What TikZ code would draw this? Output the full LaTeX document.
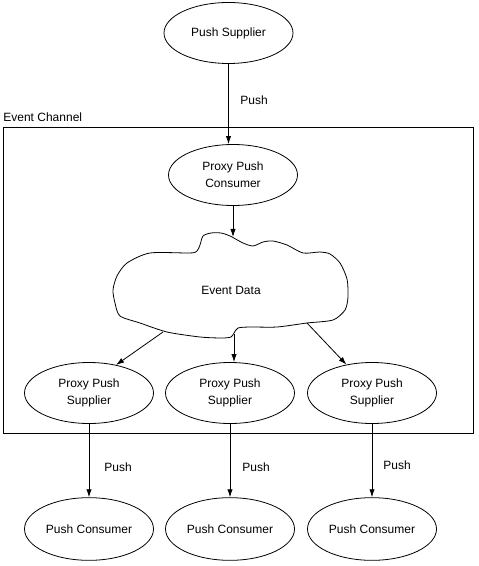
\documentclass[tikz,border=0pt]{standalone}
\usepackage{fontspec}
\setmainfont{Liberation Sans}
\usetikzlibrary{shapes.geometric, arrows.meta}

\begin{document}
\begin{tikzpicture}[x=0.75pt, y=-0.75pt, line width=0.6pt,
    font=\fontsize{9}{13}\selectfont,
    role/.style={draw, ellipse, minimum width=96.75pt, minimum height=45.75pt,
      inner sep=0pt, align=center},
    push/.style={-{Latex[length=6pt, width=4pt]}}]
  \useasboundingbox (0, 0) rectangle (478, 566);
  \draw (3, 127) rectangle (473, 433);
  \node[anchor=base west, inner sep=0pt] (chan) at (3, 122) {Event Channel};
  \node[role] (sup) at (228.5, 33) {Push Supplier};
  \node[role] (ppc) at (233, 175) {Proxy Push\\Consumer};
  \node[role] (pps1) at (89, 393) {Proxy Push\\Supplier};
  \node[role] (pps2) at (230, 393) {Proxy Push\\Supplier};
  \node[role] (pps3) at (372, 393) {Proxy Push\\Supplier};
  \node[role, minimum height=47pt] (con1) at (89, 529) {Push Consumer};
  \node[role, minimum height=47pt] (con2) at (230, 529) {Push Consumer};
  \node[role, minimum height=47pt] (con3) at (372, 529) {Push Consumer};
  % cloud
  \draw plot[smooth cycle, tension=0.45] coordinates {
    (200, 245) (203, 236) (211, 233) (221, 233) (230, 236) (243, 243)
    (253, 246) (263, 242) (273, 241) (287, 245) (303, 253) (320, 252)
    (330, 254) (340, 263) (347, 279) (348, 297) (345, 310) (333, 320)
    (307, 323) (277, 327) (250, 327) (238, 328) (234, 333) (231, 337)
    (222, 338) (200, 337) (167, 332) (140, 323) (120, 316) (115, 303)
    (113, 290) (117, 276) (127, 263) (150, 253) (190, 253) (197, 251)};
  \node (data) at (231, 290) {Event Data};
  \coordinate (in) at (233, 237);
  \coordinate (out1) at (163, 332);
  \coordinate (out2) at (234, 334);
  \coordinate (out3) at (307, 323);
  \draw[push] (sup.south) -- (sup.south |- ppc.north);
  \node (lbl0) at (254, 100) {Push};
  \draw[push] (ppc.south) -- (in);
  \draw[push] (out1) -- (pps1.46);
  \draw[push] (out2) -- (out2 |- pps2.north);
  \draw[push] (out3) -- (pps3.132);
  \foreach \i in {1, 2, 3}
    \draw[push] (pps\i.south) -- (con\i.north);
  \node (lbl1) at (118, 467) {Push};
  \node (lbl2) at (256, 467) {Push};
  \node (lbl3) at (397, 465) {Push};
\end{tikzpicture}
\end{document}
